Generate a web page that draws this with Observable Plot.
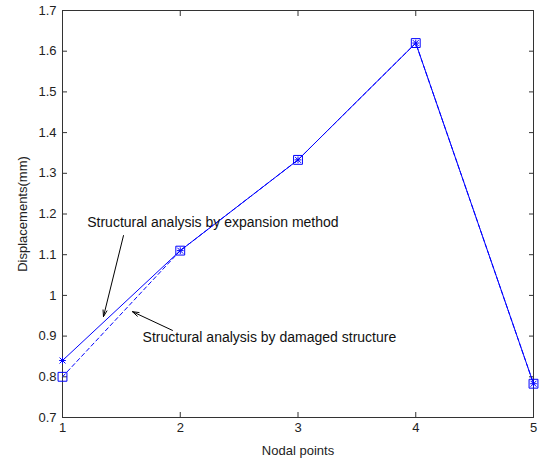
<!DOCTYPE html>
<html>
<head>
<meta charset="utf-8">
<script src="https://cdn.jsdelivr.net/npm/d3@7"></script>
<script src="https://cdn.jsdelivr.net/npm/@observablehq/plot@0.6"></script>
<style>
  html, body { margin: 0; padding: 0; background: #fff; }
  #chart svg { display: block; }
</style>
</head>
<body>
<div id="chart"></div>
<script>
// Data
const nodes = [1, 2, 3, 4, 5];
const expansion = [0.84, 1.11, 1.333, 1.62, 0.783];   // solid line, star markers
const damaged   = [0.80, 1.11, 1.333, 1.62, 0.783];   // dashed line, square markers
const xTicks = [1, 2, 3, 4, 5];
const yTicks = [0.7, 0.8, 0.9, 1.0, 1.1, 1.2, 1.3, 1.4, 1.5, 1.6, 1.7];

// Annotations (data coordinates)
const noteTexts = ["Structural analysis by expansion method", "Structural analysis by damaged structure"];
const noteX = [1.21, 1.68];
const noteY = [1.18, 0.897];
const arrowX1 = [1.518, 1.934];
const arrowY1 = [1.147, 0.914];
const arrowX2 = [1.348, 1.594];
const arrowY2 = [0.948, 0.960];

const fmt = d => String(+d.toFixed(1));
const blue = "#0000ff";
const axisColor = "#333";
const T = 5; // tick length (inward)

const chart = Plot.plot({
  width: 540,
  height: 464,
  marginLeft: 62,
  marginRight: 7,
  marginTop: 10,
  marginBottom: 47,
  style: { fontFamily: "'Liberation Sans', Arial, sans-serif", fontSize: "14px", color: "#222", background: "#fff" },
  x: { domain: [1, 5], label: null },
  y: { domain: [0.7, 1.7], label: null },
  marks: [
    Plot.frame({ stroke: axisColor }),
    // inward ticks on all four sides
    Plot.axisX({ ticks: xTicks, anchor: "bottom", tickSize: T, dy: -T, tickFormat: () => "", label: null, stroke: axisColor }),
    Plot.axisX({ ticks: xTicks, anchor: "top", tickSize: T, dy: T, tickFormat: () => "", label: null, stroke: axisColor }),
    Plot.axisY({ ticks: yTicks, anchor: "left", tickSize: T, dx: T, tickFormat: () => "", label: null, stroke: axisColor }),
    Plot.axisY({ ticks: yTicks, anchor: "right", tickSize: T, dx: -T, tickFormat: () => "", label: null, stroke: axisColor }),
    // tick labels and axis titles
    Plot.axisX({ ticks: xTicks, anchor: "bottom", tickSize: 0, tickPadding: 5, tickFormat: fmt, fontSize: 13,
                 label: "Nodal points", labelAnchor: "center", labelOffset: 37, labelArrow: "none" }),
    Plot.axisY({ ticks: yTicks, anchor: "left", tickSize: 0, tickPadding: 6, tickFormat: fmt, fontSize: 13,
                 label: "Displacements(mm)", labelAnchor: "center", labelOffset: 45, labelArrow: "none" }),
    // series
    Plot.line(nodes, { x: d => d, y: (d, i) => damaged[i], stroke: blue, strokeWidth: 1, strokeDasharray: "4,3" }),
    Plot.line(nodes, { x: d => d, y: (d, i) => expansion[i], stroke: blue, strokeWidth: 1 }),
    Plot.dot(nodes, { x: d => d, y: (d, i) => damaged[i], symbol: "square", r: 5, fill: "none", stroke: blue, strokeWidth: 1 }),
    Plot.dot(nodes, { x: d => d, y: (d, i) => expansion[i], symbol: "plus", r: 2.3, fill: "none", stroke: blue, strokeWidth: 1 }),
    Plot.dot(nodes, { x: d => d, y: (d, i) => expansion[i], symbol: "times", r: 2.8, fill: "none", stroke: blue, strokeWidth: 1 }),
    // annotations
    Plot.text(noteTexts, { x: (d, i) => noteX[i], y: (d, i) => noteY[i], text: d => d, textAnchor: "start", fontSize: 14, fill: "#111" }),
    Plot.arrow(noteTexts, { x1: (d, i) => arrowX1[i], y1: (d, i) => arrowY1[i], x2: (d, i) => arrowX2[i], y2: (d, i) => arrowY2[i],
                            stroke: "#000", strokeWidth: 1, headLength: 10, headAngle: 35 })
  ]
});
document.getElementById("chart").appendChild(chart);
</script>
</body>
</html>
